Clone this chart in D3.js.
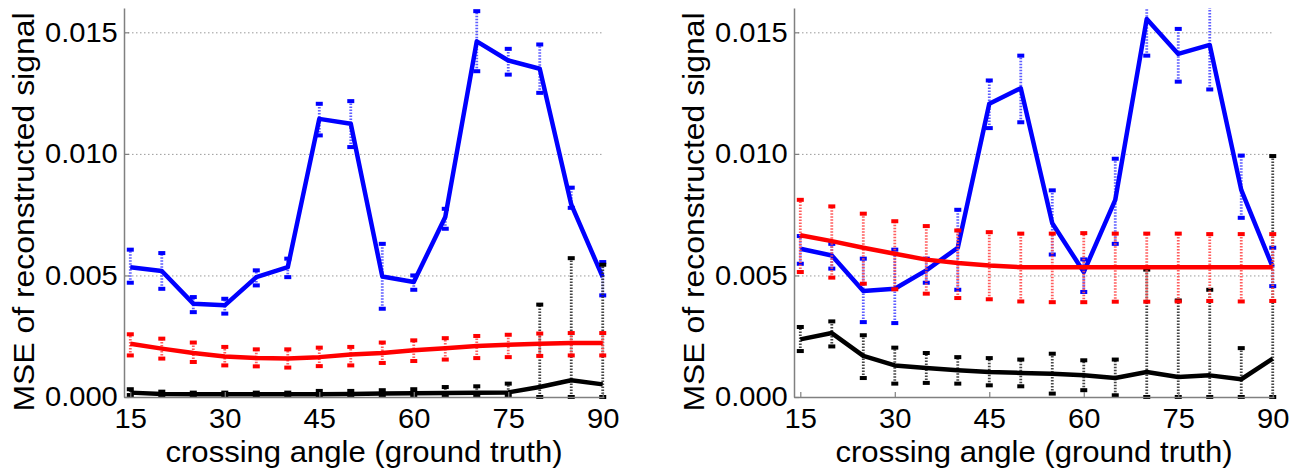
<!DOCTYPE html>
<html>
<head>
<meta charset="utf-8">
<script src="https://cdn.jsdelivr.net/npm/d3@7"></script>
<style>
  body { margin: 0; background: #fff; }
  svg text { font-family: "Liberation Sans", Arial, Helvetica, sans-serif; fill: #000; }
</style>
</head>
<body>
<div id="outer"></div>
<script>
////////// DATA (MSE values in units of 1e-3) //////////
const angles = [15, 20, 25, 30, 35, 40, 45, 50, 55, 60, 65, 70, 75, 80, 85, 90];
const xTicks = [15, 30, 45, 60, 75, 90];
const yTicks = [0, 5, 10, 15];
const gridTicks = [5, 10, 15];

// left panel
const blueA = [5.34, 5.18, 3.84, 3.77, 4.93, 5.34, 11.44, 11.24, 4.96, 4.73, 7.40, 14.63, 13.84, 13.50, 7.92, 4.93];
const blueAHi = [6.06, 5.92, 4.11, 4.04, 5.21, 5.69, 12.06, 12.17, 6.30, 5.00, 7.74, 15.87, 14.32, 14.50, 8.61, 5.55];
const blueALo = [4.70, 4.45, 3.49, 3.43, 4.59, 4.93, 10.76, 10.28, 3.63, 4.41, 6.92, 13.40, 13.26, 12.51, 7.78, 4.18];
const redA = [2.19, 1.99, 1.81, 1.67, 1.60, 1.58, 1.64, 1.75, 1.81, 1.92, 2.01, 2.10, 2.15, 2.19, 2.22, 2.22];
const redAHi = [2.58, 2.40, 2.24, 2.06, 1.96, 1.96, 2.03, 2.06, 2.24, 2.33, 2.42, 2.51, 2.56, 2.61, 2.63, 2.63];
const redALo = [1.71, 1.58, 1.44, 1.30, 1.26, 1.21, 1.27, 1.30, 1.40, 1.48, 1.54, 1.60, 1.64, 1.69, 1.71, 1.71];
const blackA = [0.18, 0.12, 0.11, 0.11, 0.11, 0.11, 0.11, 0.12, 0.14, 0.15, 0.16, 0.17, 0.19, 0.41, 0.69, 0.52];
const blackAHi = [0.32, 0.22, 0.18, 0.18, 0.18, 0.18, 0.25, 0.25, 0.28, 0.32, 0.41, 0.44, 0.55, 3.80, 5.71, 5.44];
const blackALo = [0.08, 0.05, 0.05, 0.05, 0.05, 0.05, 0.05, 0.05, 0.05, 0.05, 0.05, 0.05, 0.05, 0.00, 0.00, 0.00];

// right panel
const blueB = [6.10, 5.82, 4.36, 4.45, 5.21, 6.14, 12.06, 12.70, 7.15, 5.14, 8.11, 15.55, 14.11, 14.48, 8.52, 5.34];
const blueBHi = [6.62, 6.30, 5.69, 6.06, 5.69, 7.70, 13.02, 14.04, 8.50, 5.66, 9.80, 16.50, 15.14, 16.30, 9.93, 6.14];
const blueBLo = [5.48, 5.28, 3.08, 3.04, 4.70, 4.41, 11.06, 11.30, 5.86, 4.32, 6.30, 14.04, 12.97, 12.65, 7.37, 4.56];
const redB = [6.65, 6.41, 6.14, 5.89, 5.65, 5.51, 5.41, 5.34, 5.34, 5.34, 5.34, 5.34, 5.34, 5.34, 5.34, 5.34];
const redBHi = [8.11, 7.84, 7.54, 7.23, 7.03, 6.85, 6.78, 6.72, 6.72, 6.74, 6.72, 6.72, 6.72, 6.70, 6.70, 6.70];
const redBLo = [5.14, 4.91, 4.66, 4.43, 4.25, 4.07, 4.02, 3.93, 3.90, 3.90, 3.92, 3.92, 3.93, 3.95, 3.93, 3.95];
const blackB = [2.37, 2.63, 1.69, 1.30, 1.19, 1.10, 1.03, 0.99, 0.96, 0.89, 0.78, 1.03, 0.82, 0.89, 0.73, 1.58];
const blackBHi = [2.88, 3.11, 2.54, 2.03, 1.81, 1.64, 1.60, 1.54, 1.78, 1.51, 1.54, 5.24, 3.97, 4.41, 2.01, 9.91];
const blackBLo = [1.89, 2.08, 0.78, 0.55, 0.58, 0.55, 0.48, 0.44, 0.14, 0.28, 0.07, 0.00, 0.00, 0.00, 0.00, 0.00];

////////// SIZING //////////
const W = 1307, H = 475;
const plotTop = 8, plotBottom = 397, plotW = 480;
const axisColor = '#808080';

const panels = [
  { left: 124, series: [
    { color: '#0000ff', bar: '#4d4dff', mean: blueA, hi: blueAHi, lo: blueALo },
    { color: '#000000', bar: '#333333', mean: blackA, hi: blackAHi, lo: blackALo },
    { color: '#ff0000', bar: '#ff4d4d', mean: redA, hi: redAHi, lo: redALo }
  ]},
  { left: 794, series: [
    { color: '#0000ff', bar: '#4d4dff', mean: blueB, hi: blueBHi, lo: blueBLo },
    { color: '#000000', bar: '#333333', mean: blackB, hi: blackBHi, lo: blackBLo },
    { color: '#ff0000', bar: '#ff4d4d', mean: redB, hi: redBHi, lo: redBLo }
  ]}
];

////////// RENDER //////////
const svg = d3.select('#outer').append('svg')
  .attr('width', W)
  .attr('height', H);

panels.forEach((p, i) => {
  const g = svg.append('g').attr('transform', `translate(${p.left},0)`);
  const x = d3.scaleLinear().domain([14, 90.2]).range([0, plotW]);
  const y = d3.scaleLinear().domain([0, 16]).range([plotBottom, plotTop]);

  g.append('clipPath').attr('id', 'clip' + i)
    .append('rect')
    .attr('x', -10).attr('y', plotTop)
    .attr('width', plotW + 20).attr('height', plotBottom - plotTop + 6);

  // GRID //
  const grid = g.append('g')
    .call(d3.axisLeft(y).tickValues(gridTicks).tickSize(-plotW).tickFormat(''));
  grid.select('.domain').remove();
  grid.selectAll('line')
    .attr('stroke', '#9a9a9a')
    .attr('stroke-width', 1)
    .attr('stroke-dasharray', '1.5,2.5');

  // SERIES //
  const plotG = g.append('g').attr('clip-path', `url(#clip${i})`);
  const line = d3.line().x((d, k) => x(angles[k])).y(d => y(d));

  p.series.forEach(s => {
    const eb = plotG.append('g');
    eb.selectAll('line').data(angles).join('line')
      .attr('x1', d => x(d)).attr('x2', d => x(d))
      .attr('y1', (d, k) => y(s.lo[k])).attr('y2', (d, k) => y(s.hi[k]))
      .attr('stroke', s.bar)
      .attr('stroke-width', 2.8)
      .attr('stroke-dasharray', '1.5,1.5')
      .attr('opacity', 0.9);
    [s.hi, s.lo].forEach(arr => {
      eb.append('g').selectAll('rect').data(angles).join('rect')
        .attr('x', d => x(d) - 3.5)
        .attr('y', (d, k) => y(arr[k]) - 2)
        .attr('width', 7).attr('height', 4)
        .attr('fill', s.color);
    });
    plotG.append('path')
      .datum(s.mean)
      .attr('d', line)
      .attr('fill', 'none')
      .attr('stroke', s.color)
      .attr('stroke-width', 4.5)
      .attr('stroke-linejoin', 'round');
  });

  // AXES //
  const yAxis = g.append('g')
    .call(d3.axisLeft(y).tickValues(yTicks).tickSizeInner(-5).tickSizeOuter(0)
      .tickPadding(6).tickFormat(d => (d / 1000).toFixed(3)));
  const xAxis = g.append('g')
    .attr('transform', `translate(0,${plotBottom})`)
    .call(d3.axisBottom(x).tickValues(xTicks).tickSizeInner(-5).tickSizeOuter(0)
      .tickPadding(11));
  [yAxis, xAxis].forEach(a => {
    a.select('.domain').attr('stroke', axisColor).attr('stroke-width', 1.5);
    a.selectAll('.tick line').attr('stroke', axisColor).attr('stroke-width', 1.2);
    a.selectAll('text').attr('font-size', 28).attr('fill', '#000')
      .attr('transform', 'scale(1.04,1)');
  });

  // TITLES //
  g.append('text')
    .attr('x', plotW / 2).attr('y', 462)
    .attr('text-anchor', 'middle')
    .attr('font-size', 30)
    .attr('textLength', 397).attr('lengthAdjust', 'spacingAndGlyphs')
    .text('crossing angle (ground truth)');
  g.append('text')
    .attr('transform', `translate(-90,212) rotate(-90)`)
    .attr('text-anchor', 'middle')
    .attr('font-size', 30)
    .attr('textLength', 399).attr('lengthAdjust', 'spacingAndGlyphs')
    .text('MSE of reconstructed signal');
});
</script>
</body>
</html>
